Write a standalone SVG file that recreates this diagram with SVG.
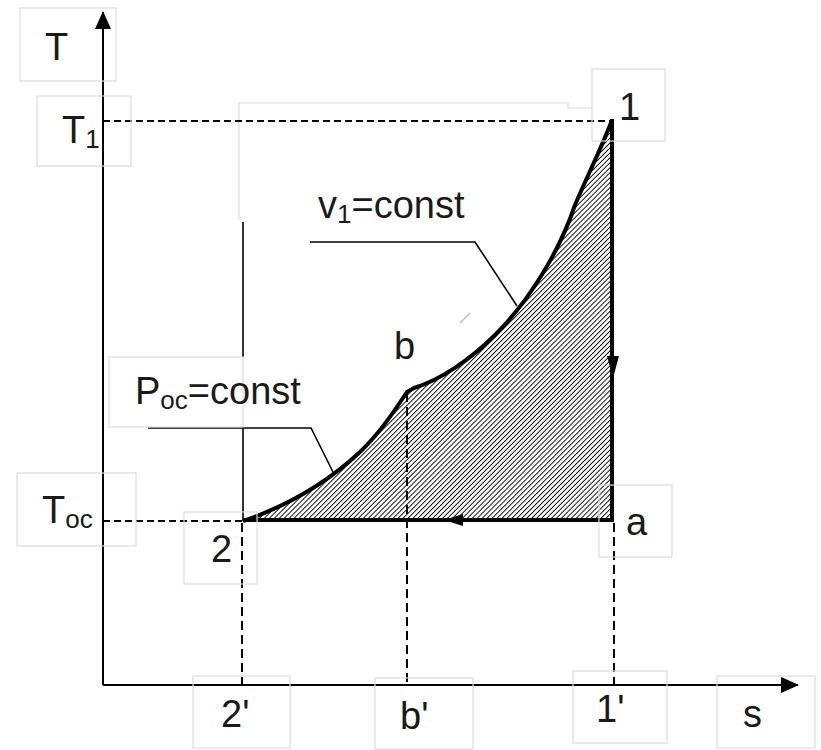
<svg xmlns="http://www.w3.org/2000/svg" width="821" height="750" viewBox="0 0 821 750">
<defs>
<pattern id="hatch" width="3.5" height="10" patternUnits="userSpaceOnUse" patternTransform="rotate(45)">
<line x1="0" y1="0" x2="0" y2="10" stroke="#000" stroke-width="1.8"/>
</pattern>
<marker id="arr" markerWidth="18" markerHeight="16" refX="17" refY="8" orient="auto" markerUnits="userSpaceOnUse">
<path d="M0,0 L18,8 L0,16 Z" fill="#000"/>
</marker>
<clipPath id="area">
<path d="M243,521 C290,505 330,480 360,452 C380,433 395,410 407,392 L414,388 C440,380 470,360 495,335 C530,300 560,250 575,205 C590,170 605,140 612,120 L612,521 Z"/>
</clipPath>
<style>
.box{fill:none;stroke:#dcdcdc;stroke-width:1.2}
.gl{fill:none;stroke:#dcdcdc;stroke-width:1.2}
.t{font-family:"Liberation Sans",Arial,sans-serif;font-size:38px;fill:#1a1a1a}
.sub{font-size:26px}
.dh{stroke:#000;stroke-width:2;stroke-dasharray:7,4;fill:none}
.dv{stroke:#000;stroke-width:2;stroke-dasharray:9,5;fill:none}
.ax{stroke:#000;stroke-width:2;fill:none}
.thick{stroke:#000;stroke-width:4;fill:none}
.thin{stroke:#000;stroke-width:1.6;fill:none}
</style>
</defs>
<rect width="821" height="750" fill="#fff"/>

<g id="background-boxes">
<polyline class="gl" points="239,220 239,103 568,103 568,108 592,108"/>
</g>

<g id="region">
<rect x="230" y="100" width="400" height="430" fill="url(#hatch)" clip-path="url(#area)"/>
</g>

<g id="connectors">
<line class="ax" x1="103" y1="685" x2="103" y2="12" marker-end="url(#arr)"/>
<line class="ax" x1="103" y1="685" x2="798" y2="685" marker-end="url(#arr)"/>
<line class="dh" x1="103" y1="121" x2="612" y2="121"/>
<line class="dh" x1="103" y1="521" x2="242" y2="521"/>
<line class="dv" x1="242" y1="523" x2="242" y2="685"/>
<line class="dv" x1="407" y1="393" x2="407" y2="685"/>
<line class="dv" x1="614" y1="523" x2="614" y2="685"/>
<path class="thick" d="M243,521 C290,505 330,480 360,452 C380,433 395,410 407,392 L414,388 C440,380 470,360 495,335 C530,300 560,250 575,205 C590,170 605,140 612,120"/>
<line class="thick" x1="612" y1="119" x2="612" y2="522"/>
<line class="thick" x1="243" y1="520" x2="614" y2="520"/>
<polygon points="607,356 619,356 613,378" fill="#000"/>
<polygon points="444,520 463,514 463,526" fill="#000"/>
<line class="thin" x1="243" y1="222" x2="243" y2="357"/>
<line class="thin" x1="243" y1="428" x2="243" y2="521"/>
<polyline class="thin" points="310,242 475,242 517,306"/>
<polyline class="thin" points="148,428 311,428 333,472"/>
<line x1="460" y1="323" x2="470" y2="313" stroke="#bbb" stroke-width="1.2"/>
</g>

<g id="label-T">
<rect class="box" x="20" y="8" width="96" height="73"/>
<text class="t" x="45" y="60">T</text>
</g>
<g id="label-T1">
<rect class="box" x="37" y="96" width="94" height="70"/>
<text class="t" x="62" y="143">T<tspan class="sub" dy="5">1</tspan></text>
</g>
<g id="label-Toc">
<rect class="box" x="17" y="473" width="119" height="73"/>
<text class="t" x="42" y="523">T<tspan class="sub" dy="5">oc</tspan></text>
</g>
<g id="label-2">
<rect class="box" x="184" y="512" width="73" height="72"/>
<text class="t" x="211" y="562">2</text>
</g>
<g id="label-1">
<rect class="box" x="592" y="69" width="73" height="72"/>
<text class="t" x="619" y="120">1</text>
</g>
<g id="label-a">
<rect class="box" x="599" y="485" width="73" height="72"/>
<text class="t" x="626" y="535">a</text>
</g>
<g id="label-b">
<text class="t" x="394" y="359">b</text>
</g>
<g id="label-v1">
<text class="t" x="318" y="218">v<tspan class="sub" dy="5">1</tspan><tspan dy="-5">=const</tspan></text>
</g>
<g id="label-Poc">
<rect class="box" x="109" y="357" width="134" height="70"/>
<text class="t" x="135" y="404">P<tspan class="sub" dy="5">oc</tspan><tspan dy="-5">=const</tspan></text>
</g>
<g id="label-2p">
<rect class="box" x="193" y="676" width="97" height="72"/>
<text class="t" x="221" y="727">2'</text>
</g>
<g id="label-bp">
<rect class="box" x="375" y="678" width="98" height="71"/>
<text class="t" x="400" y="729">b'</text>
</g>
<g id="label-1p">
<rect class="box" x="573" y="671" width="94" height="72"/>
<text class="t" x="596" y="722">1'</text>
</g>
<g id="label-s">
<rect class="box" x="717" y="676" width="98" height="72"/>
<text class="t" x="743" y="727">s</text>
</g>
</svg>
